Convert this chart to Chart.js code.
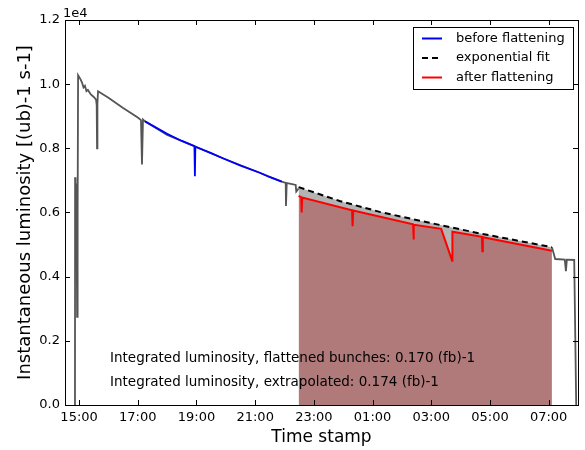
<!DOCTYPE html>
<html>
<head>
<meta charset="utf-8">
<script src="https://cdn.jsdelivr.net/npm/chart.js@4"></script>
<style>
  html, body { margin: 0; padding: 0; background: #fff; }
  #wrap { width: 585px; height: 450px; }
</style>
</head>
<body>
<div id="wrap"><canvas id="c"></canvas></div>
<script>
// times are decimal hours on a running clock (24+ = next day), values in units of 1e4
const greyTimes = [14.860, 14.864, 14.880, 14.898, 14.915, 14.932, 14.950, 14.966, 15.05, 15.10, 15.15, 15.20,
  15.25, 15.30, 15.40, 15.50, 15.578, 15.60, 15.612, 15.625, 15.646, 16.00, 16.50, 17.00, 17.109, 17.143,
  17.177, 17.245, 18.00, 18.946, 19.898, 21.156, 21.905, 22.041, 22.050, 22.075, 22.177, 22.381, 22.40,
  22.48, 22.60, 31.112, 31.224, 31.55, 31.588, 31.62, 31.871, 31.939];
const greyValues = [0.00, 0.71, 0.45, 0.69, 0.60, 0.275, 0.60, 1.028, 1.015, 1.005, 0.99, 0.995,
  0.978, 0.982, 0.968, 0.960, 0.952, 0.935, 0.80, 0.94, 0.978, 0.958, 0.926, 0.896, 0.888, 0.75,
  0.890, 0.884, 0.842, 0.806, 0.769, 0.724, 0.696, 0.692, 0.62, 0.692, 0.690, 0.686, 0.665,
  0.675, null, 0.492, 0.455, 0.453, 0.417, 0.453, 0.452, 0.00];

const blueTimes = [17.245, 18.00, 18.50, 18.930, 18.946, 18.962, 19.50, 19.898, 20.50, 21.156, 21.50, 21.905];
const blueValues = [0.884, 0.845, 0.823, 0.807, 0.713, 0.805, 0.785, 0.769, 0.746, 0.724, 0.710, 0.696];

const fitTimes = [22.48, 23.878, 25.238, 26.939, 28.639, 31.112];
const fitValues = [0.679, 0.636, 0.602, 0.568, 0.535, 0.492];

const redTimes = [22.48, 22.570, 22.585, 22.600, 24.300, 24.320, 24.340, 26.380, 26.395, 26.410,
  27.337, 27.711, 27.721, 28.725, 28.741, 28.757, 31.112];
const redValues = [0.652, 0.648, 0.600, 0.647, 0.607, 0.557, 0.606, 0.563, 0.516, 0.562,
  0.549, 0.450, 0.540, 0.524, 0.479, 0.523, 0.481];

const xTicks = [15, 17, 19, 21, 23, 25, 27, 29, 31];
const legendItems = [
  { label: "before flattening", color: "#0000ff", dash: [] },
  { label: "exponential fit", color: "#000000", dash: [6, 4] },
  { label: "after flattening", color: "#ff0000", dash: [] },
];
const notes = [
  "Integrated luminosity, flattened bunches: 0.170 (fb)-1",
  "Integrated luminosity, extrapolated: 0.174 (fb)-1",
];

const FONT = "'DejaVu Sans', sans-serif";
const pts = (xs, ys) => xs.map((x, i) => ({ x, y: ys[i] }));
const hhmm = (h) => String(h % 24).padStart(2, "0") + ":00";

const decorations = {
  id: "decorations",
  afterDraw(chart) {
    const { ctx, chartArea: a, scales: { x, y } } = chart;
    ctx.save();
    ctx.strokeStyle = "#000";
    ctx.lineWidth = 1;
    // inward ticks on all four sides
    ctx.beginPath();
    xTicks.forEach((v) => {
      const px = Math.round(x.getPixelForValue(v)) + 0.5;
      ctx.moveTo(px, a.bottom); ctx.lineTo(px, a.bottom - 5);
      ctx.moveTo(px, a.top); ctx.lineTo(px, a.top + 5);
    });
    for (let v = 0; v <= 1.2001; v += 0.2) {
      const py = Math.round(y.getPixelForValue(v)) + 0.5;
      ctx.moveTo(a.left, py); ctx.lineTo(a.left + 5, py);
      ctx.moveTo(a.right, py); ctx.lineTo(a.right - 5, py);
    }
    ctx.stroke();
    ctx.strokeRect(Math.round(a.left) + 0.5, Math.round(a.top) + 0.5,
      Math.round(a.right - a.left), Math.round(a.bottom - a.top));

    ctx.fillStyle = "#000";
    ctx.font = "13px " + FONT;
    ctx.textAlign = "left";
    ctx.textBaseline = "alphabetic";
    ctx.fillText("1e4", a.left - 2, a.top - 3);

    // annotations
    ctx.font = "13.5px " + FONT;
    ctx.textBaseline = "middle";
    notes.forEach((t, i) => ctx.fillText(t, 110, 358 + i * 24));

    // axis titles
    ctx.font = "17px " + FONT;
    ctx.textAlign = "center";
    ctx.fillText("Time stamp", (a.left + a.right) / 2, 438);
    ctx.font = "18px " + FONT;
    ctx.save();
    ctx.translate(25, (a.top + a.bottom) / 2);
    ctx.rotate(-Math.PI / 2);
    ctx.fillText("Instantaneous luminosity [(ub)-1 s-1]", 0, 0);
    ctx.restore();

    // legend
    const lx = 413, ly = 27, lw = 160, lh = 62;
    ctx.fillStyle = "#fff";
    ctx.fillRect(lx, ly, lw, lh);
    ctx.strokeStyle = "#000";
    ctx.strokeRect(lx + 0.5, ly + 0.5, lw, lh);
    ctx.font = "13px " + FONT;
    ctx.textAlign = "left";
    legendItems.forEach((it, i) => {
      const ry = 38.5 + i * 19.5;
      ctx.strokeStyle = it.color;
      ctx.lineWidth = 2;
      ctx.setLineDash(it.dash);
      ctx.beginPath();
      ctx.moveTo(422, ry); ctx.lineTo(442, ry);
      ctx.stroke();
      ctx.setLineDash([]);
      ctx.fillStyle = "#000";
      ctx.fillText(it.label, 456, ry);
    });
    ctx.restore();
  },
};

new Chart(document.getElementById("c"), {
  type: "line",
  data: {
    datasets: [
      {
        label: "after flattening",
        data: pts(redTimes, redValues),
        borderColor: "#ff0000",
        borderWidth: 2,
        backgroundColor: "#b07a7a",
        fill: "origin",
        order: 0,
      },
      {
        label: "exponential fit",
        data: pts(fitTimes, fitValues),
        borderColor: "#000000",
        borderWidth: 2,
        borderDash: [6, 4],
        backgroundColor: "#b3b3b3",
        fill: 0,
        order: 1,
      },
      {
        label: "before flattening",
        data: pts(blueTimes, blueValues),
        borderColor: "#0000ff",
        borderWidth: 1.8,
        fill: false,
        order: 2,
      },
      {
        label: "data",
        data: pts(greyTimes, greyValues),
        borderColor: "#555555",
        borderWidth: 1.8,
        fill: false,
        order: 3,
      },
    ],
  },
  options: {
    responsive: true,
    maintainAspectRatio: false,
    animation: false,
    elements: { point: { radius: 0 }, line: { tension: 0 } },
    layout: { padding: { left: 0, top: 20, right: 7, bottom: 0 } },
    plugins: {
      legend: { display: false },
      tooltip: { enabled: false },
      filler: { drawTime: "beforeDatasetsDraw" },
    },
    scales: {
      x: {
        type: "linear",
        min: 14.52,
        max: 32.0,
        grid: { display: false, drawTicks: false },
        border: { display: false },
        afterBuildTicks: (scale) => { scale.ticks = xTicks.map((v) => ({ value: v })); },
        afterFit: (scale) => { scale.height = 45; },
        ticks: {
          color: "#000",
          font: { family: FONT, size: 13 },
          padding: 5,
          maxRotation: 0,
          autoSkip: false,
          callback: (v) => hhmm(v),
        },
      },
      y: {
        min: 0,
        max: 1.2,
        grid: { display: false, drawTicks: false },
        border: { display: false },
        afterFit: (scale) => { scale.width = 65; },
        ticks: {
          stepSize: 0.2,
          color: "#000",
          font: { family: FONT, size: 13 },
          padding: 5,
          callback: (v) => v.toFixed(1),
        },
      },
    },
  },
  plugins: [decorations],
});
</script>
</body>
</html>
